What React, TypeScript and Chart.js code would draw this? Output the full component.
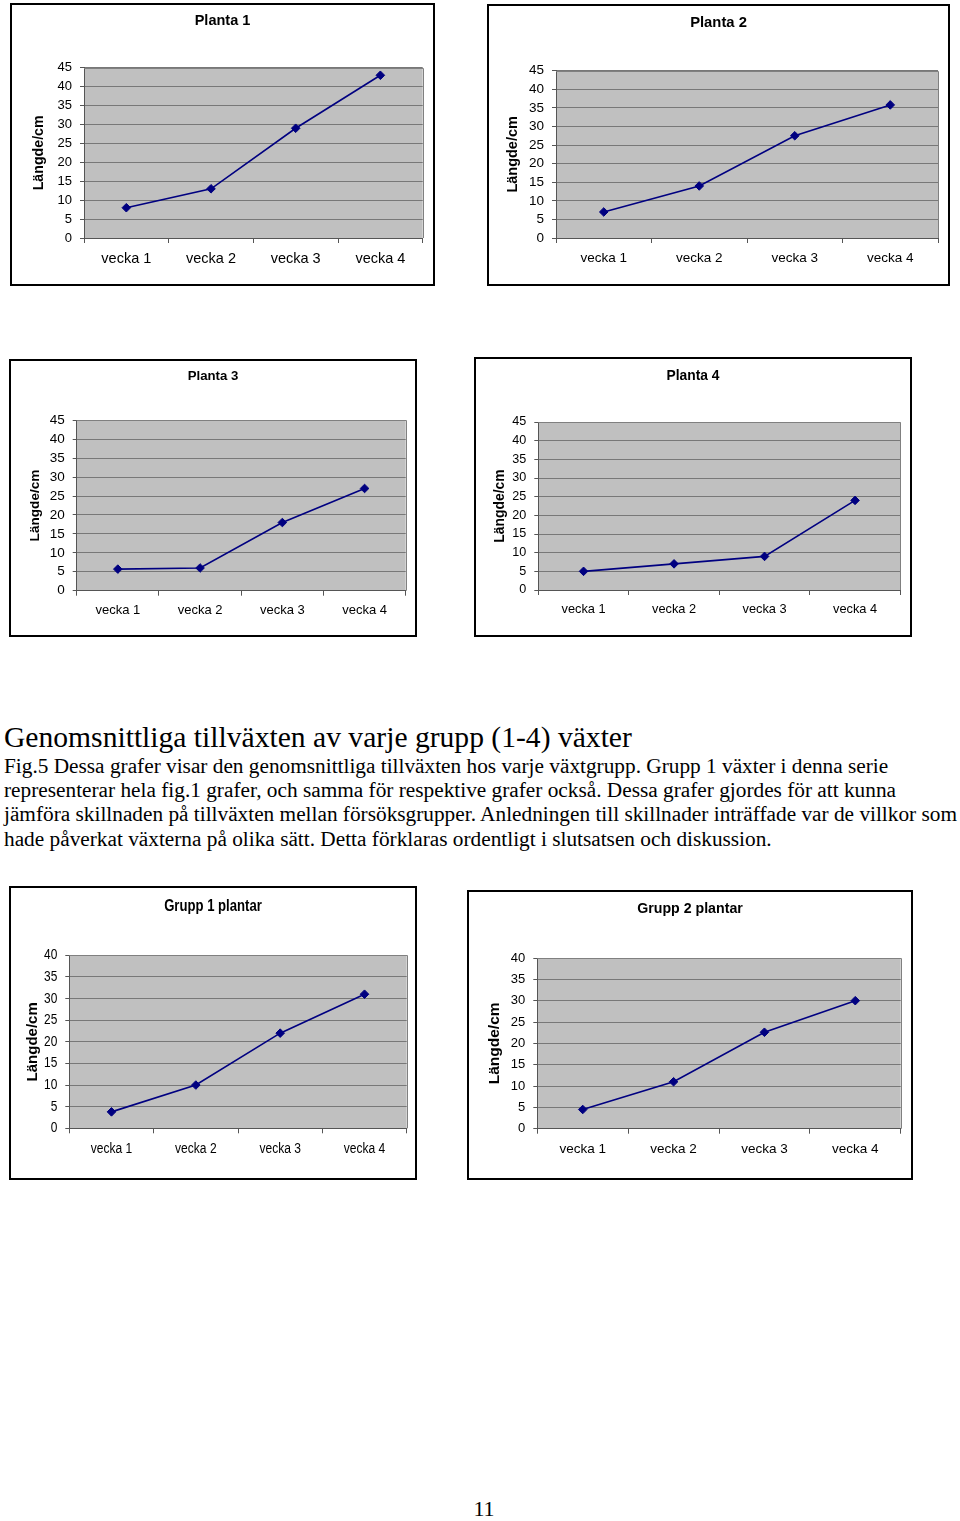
import React, { useEffect, useRef } from "react";
import { Chart, registerables } from "chart.js";

Chart.register(...registerables);

// ---------- data ----------
const weeks = ["vecka 1", "vecka 2", "vecka 3", "vecka 4"];
const planta1 = [8, 13, 29, 43];
const planta2 = [7, 14, 27.5, 35.8];
const planta3 = [5.7, 6, 18, 27];
const planta4 = [5, 7, 9, 24];
const grupp1 = [3.8, 10, 22, 31];
const grupp2 = [4.5, 11, 22.6, 30];
const yAxisTitle = "Längde/cm";

const heading = "Genomsnittliga tillväxten av varje grupp (1-4) växter";
const bodyLines = [
  "Fig.5 Dessa grafer visar den genomsnittliga tillväxten hos varje växtgrupp. Grupp 1 växter i denna serie",
  "representerar hela fig.1 grafer, och samma för respektive grafer också. Dessa grafer gjordes för att kunna",
  "jämföra skillnaden på tillväxten mellan försöksgrupper. Anledningen till skillnader inträffade var de villkor som",
  "hade påverkat växterna på olika sätt. Detta förklaras ordentligt i slutsatsen och diskussion.",
];
const pageNumber = "11";

const SANS = "'Liberation Sans', Arial, Helvetica, sans-serif";
const SERIF = "'Liberation Serif', 'Times New Roman', serif";

type Spec = {
  title: string;
  values: number[];
  yMax: number;
  box: [number, number, number, number];
  plot: [number, number, number, number];
  titleCy: number;
  yTitleCx: number;
  titleSize: number;
  yTitleSize: number;
  tickSize: number;
  labelSize: number;
  condense?: number;
};

const specs: Spec[] = [
  {
    title: "Planta 1", values: planta1, yMax: 45,
    box: [10, 3, 425, 283], plot: [84, 67.7, 422.7, 238],
    titleCy: 20.7, yTitleCx: 39, titleSize: 14.5, yTitleSize: 14.2, tickSize: 13, labelSize: 14.5,
  },
  {
    title: "Planta 2", values: planta2, yMax: 45,
    box: [487, 4, 463, 282], plot: [556, 70.7, 938, 238],
    titleCy: 22.7, yTitleCx: 513.3, titleSize: 14.8, yTitleSize: 14.5, tickSize: 13.5, labelSize: 13.5,
  },
  {
    title: "Planta 3", values: planta3, yMax: 45,
    box: [9, 359, 408, 278], plot: [76.7, 420.3, 405.7, 590.7],
    titleCy: 376.7, yTitleCx: 35, titleSize: 13.2, yTitleSize: 13.6, tickSize: 13.5, labelSize: 13,
  },
  {
    title: "Planta 4", values: planta4, yMax: 45,
    box: [474, 357, 438, 280], plot: [538.3, 422, 900.3, 590],
    titleCy: 376, yTitleCx: 500, titleSize: 13.8, yTitleSize: 13.9, tickSize: 12.6, labelSize: 12.8,
  },
  {
    title: "Grupp 1 plantar", values: grupp1, yMax: 40,
    box: [9, 886, 408, 294], plot: [69.3, 955.3, 406.7, 1128.3],
    titleCy: 906.7, yTitleCx: 33.3, titleSize: 16, yTitleSize: 15, tickSize: 14.5, labelSize: 14.7,
    condense: 0.82,
  },
  {
    title: "Grupp 2 plantar", values: grupp2, yMax: 40,
    box: [467, 890, 446, 290], plot: [537.3, 958, 900.7, 1128.7],
    titleCy: 909.3, yTitleCx: 495, titleSize: 14.2, yTitleSize: 15.5, tickSize: 13, labelSize: 13.5,
  },
];

const plotBgPlugin = {
  id: "plotBg",
  beforeDraw(chart: any) {
    const { ctx, chartArea } = chart;
    if (!chartArea) return;
    ctx.save();
    ctx.fillStyle = "#c0c0c0";
    ctx.fillRect(chartArea.left, chartArea.top, chartArea.right - chartArea.left, chartArea.bottom - chartArea.top);
    ctx.restore();
  },
  beforeDatasetsDraw(chart: any) {
    const { ctx, chartArea } = chart;
    ctx.save();
    ctx.strokeStyle = "#808080";
    ctx.lineWidth = 1;
    ctx.beginPath();
    ctx.moveTo(chartArea.left, Math.round(chartArea.top) + 0.5);
    ctx.lineTo(Math.round(chartArea.right) + 0.5, Math.round(chartArea.top) + 0.5);
    ctx.lineTo(Math.round(chartArea.right) + 0.5, chartArea.bottom);
    ctx.stroke();
    ctx.restore();
  },
};

// Draws horizontal text narrower (like Arial Narrow) for one chart.
function makeCondensePlugin(factor: number) {
  return {
    id: "condense",
    beforeDraw(chart: any) {
      const ctx = chart.ctx;
      if (ctx.__origFillText) return;
      const orig = ctx.fillText.bind(ctx);
      ctx.__origFillText = orig;
      ctx.fillText = (text: string, x: number, y: number, maxWidth?: number) => {
        const m = ctx.getTransform();
        if (Math.abs(m.b) > 1e-6 || Math.abs(m.c) > 1e-6) {
          return maxWidth === undefined ? orig(text, x, y) : orig(text, x, y, maxWidth);
        }
        ctx.save();
        ctx.translate(x, y);
        ctx.scale(factor, 1);
        orig(text, 0, 0);
        ctx.restore();
      };
    },
    afterDraw(chart: any) {
      const ctx = chart.ctx;
      if (ctx.__origFillText) {
        ctx.fillText = ctx.__origFillText;
        delete ctx.__origFillText;
      }
    },
  };
}

const BORDER = 2;

function ChartBox({ spec }: { spec: Spec }) {
  const ref = useRef<HTMLCanvasElement>(null);
  const [bx, by, bw, bh] = spec.box;
  const cw = bw - 2 * BORDER;
  const ch = bh - 2 * BORDER;

  useEffect(() => {
    const cl = bx + BORDER;
    const ct = by + BORDER;
    const [pl, pt, pr, pb] = spec.plot;
    const side = cl + cw - pr;
    const tlh = spec.titleSize * 1.2;
    const titleTop = spec.titleCy - ct - tlh / 2;
    const titleBottom = pt - ct - titleTop - tlh;
    const yW = pl - cl - side;
    const xH = ct + ch - pb;
    const ytlh = spec.yTitleSize * 1.2;
    const ytPad = Math.max(0, spec.yTitleCx - cl - side - ytlh / 2);

    const plugins: any[] = [plotBgPlugin];
    if (spec.condense) plugins.push(makeCondensePlugin(spec.condense));

    const chart = new Chart(ref.current as HTMLCanvasElement, {
      type: "line",
      data: {
        labels: weeks,
        datasets: [
          {
            data: spec.values,
            borderColor: "#000080",
            backgroundColor: "#000080",
            borderWidth: 1.6,
            pointStyle: "rectRot",
            pointRadius: 4.3,
            pointHoverRadius: 4.3,
            pointBackgroundColor: "#000080",
            pointBorderColor: "#000080",
            pointBorderWidth: 1,
            tension: 0,
            clip: false as any,
          },
        ],
      },
      options: {
        responsive: false,
        animation: false,
        devicePixelRatio: 1,
        events: [],
        layout: { padding: { left: side, right: side, top: 0, bottom: 0 } },
        plugins: {
          legend: { display: false },
          tooltip: { enabled: false },
          title: {
            display: true,
            text: spec.title,
            color: "#000",
            font: { family: SANS, size: spec.titleSize, weight: "bold", lineHeight: 1.2 },
            padding: { top: titleTop, bottom: titleBottom },
          },
        },
        scales: {
          x: {
            offset: true,
            grid: { offset: true, drawOnChartArea: false, drawTicks: true, tickLength: 5, color: "#555", lineWidth: 1 },
            border: { color: "#555", width: 1 },
            ticks: {
              color: "#000",
              font: { family: SANS, size: spec.labelSize },
              padding: 7,
              maxRotation: 0,
              minRotation: 0,
              autoSkip: false,
            },
            afterFit: (s: any) => {
              s.height = xH;
            },
          },
          y: {
            min: 0,
            max: spec.yMax,
            ticks: {
              stepSize: 5,
              autoSkip: false,
              color: "#000",
              font: { family: SANS, size: spec.tickSize },
              padding: 8,
            },
            grid: { color: "#787878", tickColor: "#555", tickLength: 4, lineWidth: 1 },
            border: { color: "#555", width: 1 },
            title: {
              display: true,
              text: yAxisTitle,
              color: "#000",
              font: { family: SANS, size: spec.yTitleSize, weight: "bold", lineHeight: 1.2 },
              padding: { top: ytPad, bottom: 0 },
            },
            afterFit: (s: any) => {
              s.width = yW;
            },
          },
        },
      },
      plugins,
    } as any);
    return () => chart.destroy();
  }, []);

  return (
    <div
      style={{
        position: "absolute",
        left: bx,
        top: by,
        width: bw,
        height: bh,
        border: `${BORDER}px solid #000`,
        boxSizing: "border-box",
        background: "#fff",
      }}
    >
      <canvas ref={ref} width={cw} height={ch} style={{ display: "block", width: cw, height: ch }} />
    </div>
  );
}

export default function App() {
  return (
    <div
      style={{
        position: "absolute",
        left: 0,
        top: 0,
        width: 960,
        height: 1521,
        background: "#fff",
        overflow: "hidden",
      }}
    >
      {specs.map((s) => (
        <ChartBox key={s.title} spec={s} />
      ))}
      <div
        style={{
          position: "absolute",
          left: 4,
          top: 719.5,
          fontFamily: SERIF,
          fontSize: 29.6,
          lineHeight: "34px",
          whiteSpace: "nowrap",
          color: "#000",
        }}
      >
        {heading}
      </div>
      {bodyLines.map((line, i) => (
        <div
          key={i}
          style={{
            position: "absolute",
            left: 4,
            top: 754 + i * 24.2,
            fontFamily: SERIF,
            fontSize: 21.3,
            lineHeight: "24.2px",
            whiteSpace: "nowrap",
            color: "#000",
          }}
        >
          {line}
        </div>
      ))}
      <div
        style={{
          position: "absolute",
          left: 0,
          width: 968,
          top: 1497,
          textAlign: "center",
          fontFamily: SERIF,
          fontSize: 22,
          lineHeight: "24px",
          color: "#000",
        }}
      >
        {pageNumber}
      </div>
    </div>
  );
}
